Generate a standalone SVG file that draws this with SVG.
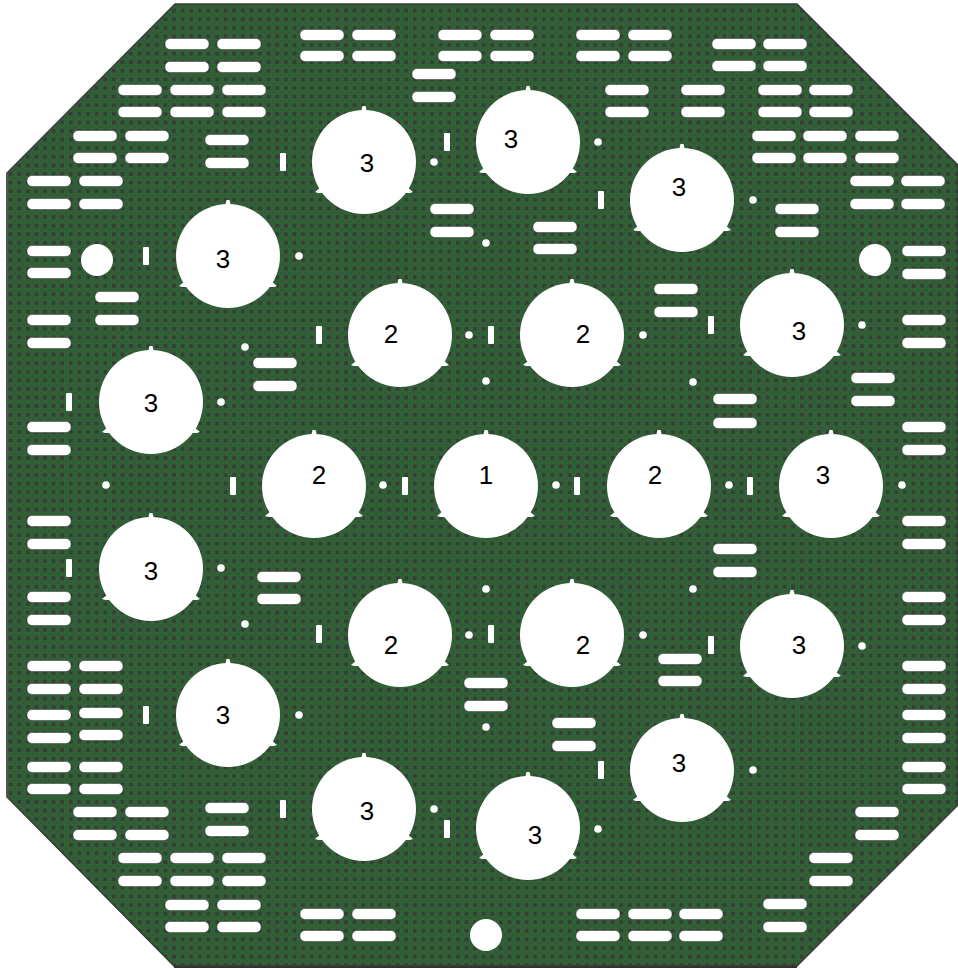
<svg xmlns="http://www.w3.org/2000/svg" xmlns:xlink="http://www.w3.org/1999/xlink" width="958" height="968" viewBox="0 0 958 968">
<style>
.t{font-family:"Liberation Sans",Arial,sans-serif;font-size:26px;fill:#000;text-anchor:middle}
.w{fill:#fff}
</style>
<defs>
<pattern id="tex" width="8.6" height="8.6" patternUnits="userSpaceOnUse" x="2" y="2">
<rect width="8.6" height="8.6" fill="#2e6434"/>
<rect x="-2" y="-2" width="4" height="4" fill="#3a3c3a"/>
<rect x="6.6" y="-2" width="4" height="4" fill="#3a3c3a"/>
<rect x="-2" y="6.6" width="4" height="4" fill="#3a3c3a"/>
<rect x="6.6" y="6.6" width="4" height="4" fill="#3a3c3a"/>
<rect x="3.3" y="3.3" width="2" height="2" fill="#3a4a3a"/>
<path d="M4.3 .6V2M4.3 6.6V8M.6 4.3H2M6.6 4.3H8" stroke="#3c4f3e" stroke-width="1"/>
</pattern>
<rect id="h" class="w" x="-22" y="-5.5" width="44" height="11" rx="5" stroke="#333" stroke-opacity=".5" stroke-width="1"/>
<rect id="v" class="w" x="-3" y="-9" width="6" height="18" rx="1"/>
<circle id="d" class="w" r="3.8"/>
<g id="c" class="w">
<circle r="52"/>
<path d="M-3 -50 L-1.5 -56 L1.5 -56 L3 -50Z"/>
<path d="M-43 25 L-49 30 L-46 31 L-39 31Z"/>
<path d="M43 25 L49 30 L46 31 L39 31Z"/>
</g>
</defs>
<polygon points="175,4 797,4 958,165 958,805 797,966 174,966 7,797 7,173" fill="url(#tex)" stroke="#3a3a3a" stroke-width="1.5"/>
<path d="M7 173 V797" stroke="#555" stroke-width="2" fill="none"/>
<path d="M174 967 H797" stroke="#333" stroke-width="2" fill="none"/>
<g id="slots">
<use href="#h" x="187" y="44"/><use href="#h" x="239" y="44"/><use href="#h" x="187" y="67"/><use href="#h" x="239" y="67"/>
<use href="#h" x="140" y="90"/><use href="#h" x="192" y="90"/><use href="#h" x="244" y="90"/><use href="#h" x="140" y="112"/><use href="#h" x="192" y="112"/><use href="#h" x="244" y="112"/>
<use href="#h" x="95" y="136"/><use href="#h" x="147" y="136"/><use href="#h" x="95" y="158"/><use href="#h" x="147" y="158"/>
<use href="#h" x="227" y="140"/><use href="#h" x="227" y="163"/>
<use href="#h" x="49" y="181"/><use href="#h" x="101" y="181"/><use href="#h" x="49" y="204"/><use href="#h" x="101" y="204"/>
<use href="#h" x="49" y="251"/><use href="#h" x="49" y="273"/>
<use href="#h" x="117" y="297"/><use href="#h" x="117" y="320"/>
<use href="#h" x="49" y="320"/><use href="#h" x="49" y="343"/>
<use href="#h" x="49" y="427"/><use href="#h" x="49" y="450"/>
<use href="#h" x="49" y="521"/><use href="#h" x="49" y="544"/>
<use href="#h" x="49" y="597"/><use href="#h" x="49" y="620"/>
<use href="#h" x="275" y="363"/><use href="#h" x="275" y="386"/>
<use href="#h" x="279" y="577"/><use href="#h" x="279" y="599"/>
<use href="#h" x="49" y="666"/><use href="#h" x="101" y="666"/><use href="#h" x="49" y="689"/><use href="#h" x="101" y="689"/>
<use href="#h" x="49" y="715"/><use href="#h" x="101" y="713"/><use href="#h" x="49" y="738"/><use href="#h" x="101" y="735"/>
<use href="#h" x="49" y="767"/><use href="#h" x="101" y="767"/><use href="#h" x="49" y="789"/><use href="#h" x="101" y="789"/>
<use href="#h" x="95" y="812"/><use href="#h" x="147" y="812"/><use href="#h" x="95" y="835"/><use href="#h" x="147" y="835"/>
<use href="#h" x="227" y="808"/><use href="#h" x="227" y="831"/>
<use href="#h" x="140" y="858"/><use href="#h" x="192" y="858"/><use href="#h" x="244" y="858"/><use href="#h" x="140" y="881"/><use href="#h" x="192" y="881"/><use href="#h" x="244" y="881"/>
<use href="#h" x="187" y="905"/><use href="#h" x="239" y="905"/><use href="#h" x="187" y="927"/><use href="#h" x="239" y="927"/>
<use href="#h" x="322" y="914"/><use href="#h" x="374" y="914"/><use href="#h" x="322" y="936"/><use href="#h" x="374" y="936"/>
<use href="#h" x="486" y="683"/><use href="#h" x="486" y="706"/>
<use href="#h" x="574" y="723"/><use href="#h" x="574" y="746"/>
<use href="#h" x="598" y="914"/><use href="#h" x="650" y="914"/><use href="#h" x="701" y="914"/><use href="#h" x="598" y="936"/><use href="#h" x="650" y="936"/><use href="#h" x="701" y="936"/>
<use href="#h" x="785" y="904"/><use href="#h" x="785" y="927"/>
<use href="#h" x="831" y="858"/><use href="#h" x="831" y="881"/>
<use href="#h" x="877" y="812"/><use href="#h" x="877" y="835"/>
<use href="#h" x="924" y="666"/><use href="#h" x="924" y="689"/><use href="#h" x="924" y="715"/><use href="#h" x="924" y="738"/><use href="#h" x="924" y="767"/><use href="#h" x="924" y="789"/>
<use href="#h" x="680" y="659"/><use href="#h" x="680" y="681"/>
<use href="#h" x="924" y="320"/><use href="#h" x="924" y="343"/>
<use href="#h" x="873" y="378"/><use href="#h" x="873" y="401"/>
<use href="#h" x="735" y="399"/><use href="#h" x="735" y="423"/>
<use href="#h" x="924" y="427"/><use href="#h" x="924" y="450"/>
<use href="#h" x="924" y="521"/><use href="#h" x="924" y="544"/>
<use href="#h" x="735" y="549"/><use href="#h" x="735" y="572"/>
<use href="#h" x="924" y="597"/><use href="#h" x="924" y="620"/>
<use href="#h" x="734" y="44"/><use href="#h" x="785" y="44"/><use href="#h" x="734" y="66"/><use href="#h" x="785" y="66"/>
<use href="#h" x="598" y="35"/><use href="#h" x="650" y="35"/><use href="#h" x="598" y="56"/><use href="#h" x="650" y="56"/>
<use href="#h" x="703" y="90"/><use href="#h" x="703" y="112"/><use href="#h" x="627" y="90"/><use href="#h" x="627" y="112"/>
<use href="#h" x="780" y="90"/><use href="#h" x="831" y="90"/><use href="#h" x="780" y="112"/><use href="#h" x="831" y="112"/>
<use href="#h" x="774" y="136"/><use href="#h" x="825" y="136"/><use href="#h" x="877" y="136"/><use href="#h" x="774" y="158"/><use href="#h" x="825" y="158"/><use href="#h" x="877" y="158"/>
<use href="#h" x="872" y="181"/><use href="#h" x="923" y="181"/><use href="#h" x="872" y="204"/><use href="#h" x="923" y="204"/>
<use href="#h" x="797" y="209"/><use href="#h" x="797" y="232"/>
<use href="#h" x="924" y="251"/><use href="#h" x="924" y="274"/>
<use href="#h" x="676" y="289"/><use href="#h" x="676" y="312"/>
<use href="#h" x="322" y="35"/><use href="#h" x="374" y="35"/><use href="#h" x="322" y="56"/><use href="#h" x="374" y="56"/>
<use href="#h" x="460" y="35"/><use href="#h" x="512" y="35"/><use href="#h" x="460" y="56"/><use href="#h" x="512" y="56"/>
<use href="#h" x="434" y="74"/><use href="#h" x="434" y="97"/>
<use href="#h" x="452" y="209"/><use href="#h" x="452" y="232"/>
<use href="#h" x="555" y="227"/><use href="#h" x="555" y="249"/>
<use href="#v" x="283" y="162"/><use href="#v" x="146" y="256"/><use href="#v" x="447" y="142"/><use href="#v" x="601" y="200"/>
<use href="#v" x="319" y="335"/><use href="#v" x="491" y="335"/><use href="#v" x="711" y="325"/><use href="#v" x="69" y="402"/>
<use href="#v" x="233" y="486"/><use href="#v" x="405" y="486"/><use href="#v" x="577" y="486"/><use href="#v" x="750" y="486"/>
<use href="#v" x="69" y="568"/><use href="#v" x="319" y="634"/><use href="#v" x="491" y="634"/><use href="#v" x="711" y="645"/>
<use href="#v" x="146" y="715"/><use href="#v" x="283" y="809"/><use href="#v" x="447" y="829"/><use href="#v" x="601" y="770"/>
</g>
<g id="pins">
<use href="#d" x="299" y="256"/><use href="#d" x="434" y="162"/><use href="#d" x="598" y="142"/><use href="#d" x="753" y="200"/>
<use href="#d" x="486" y="243"/><use href="#d" x="862" y="325"/><use href="#d" x="245" y="347"/><use href="#d" x="221" y="402"/>
<use href="#d" x="106" y="485"/><use href="#d" x="221" y="568"/><use href="#d" x="245" y="624"/><use href="#d" x="693" y="382"/>
<use href="#d" x="643" y="335"/><use href="#d" x="729" y="485"/><use href="#d" x="902" y="485"/><use href="#d" x="693" y="589"/>
<use href="#d" x="643" y="635"/><use href="#d" x="862" y="646"/><use href="#d" x="299" y="715"/><use href="#d" x="434" y="809"/>
<use href="#d" x="598" y="829"/><use href="#d" x="753" y="770"/><use href="#d" x="486" y="727"/><use href="#d" x="469" y="335"/>
<use href="#d" x="469" y="635"/><use href="#d" x="383" y="485"/><use href="#d" x="556" y="485"/><use href="#d" x="486" y="381"/>
<use href="#d" x="486" y="589"/>
<circle class="w" cx="97" cy="260" r="16"/><circle class="w" cx="875" cy="260" r="16"/><circle class="w" cx="486" cy="935" r="16"/>
</g>
<g id="holes">
<use href="#c" x="228" y="256"/><use href="#c" x="364" y="162"/><use href="#c" x="528" y="142"/><use href="#c" x="682" y="200"/>
<use href="#c" x="792" y="325"/><use href="#c" x="831" y="486"/><use href="#c" x="659" y="486"/><use href="#c" x="486" y="486"/>
<use href="#c" x="314" y="486"/><use href="#c" x="400" y="335"/><use href="#c" x="572" y="335"/><use href="#c" x="400" y="635"/>
<use href="#c" x="572" y="635"/><use href="#c" x="151" y="402"/><use href="#c" x="151" y="569"/><use href="#c" x="228" y="715"/>
<use href="#c" x="364" y="809"/><use href="#c" x="528" y="828"/><use href="#c" x="682" y="770"/><use href="#c" x="792" y="646"/>
</g>
<g id="labels">
<text class="t" x="223" y="268">3</text><text class="t" x="367" y="172">3</text><text class="t" x="511" y="148">3</text><text class="t" x="679" y="196">3</text>
<text class="t" x="799" y="340">3</text><text class="t" x="823" y="484">3</text><text class="t" x="655" y="484">2</text><text class="t" x="486" y="484">1</text>
<text class="t" x="319" y="484">2</text><text class="t" x="391" y="343">2</text><text class="t" x="583" y="343">2</text><text class="t" x="391" y="654">2</text>
<text class="t" x="583" y="654">2</text><text class="t" x="151" y="412">3</text><text class="t" x="151" y="580">3</text><text class="t" x="223" y="724">3</text>
<text class="t" x="367" y="820">3</text><text class="t" x="535" y="844">3</text><text class="t" x="679" y="772">3</text><text class="t" x="799" y="654">3</text>
</g>
</svg>
